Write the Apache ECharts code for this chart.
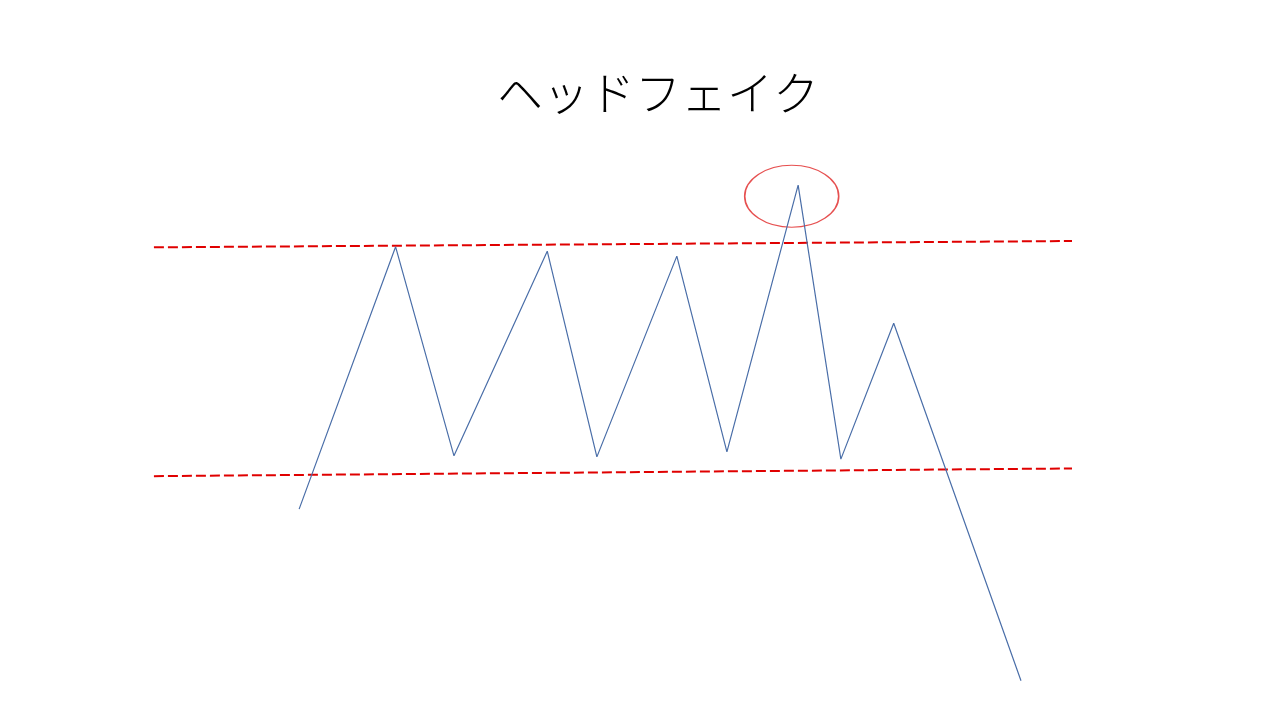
<!DOCTYPE html>
<html>
    <head>
        <title>ヘッドフェイク</title>
        <meta charset="UTF-8">
        <script src="https://cdn.jsdelivr.net/npm/echarts@6/dist/echarts.min.js"></script>
        <style>
            html, body {
                margin: 0;
                padding: 0;
                background-color: #fff;
            }
            #main {
                width: 1280px;
                height: 720px;
            }
        </style>
    </head>
    <body>
        <div id="main"></div>
        <script>
            // price path (x = time, y = price)
            var priceX = [15.9, 26.4, 32.75, 42.9, 48.3, 57.0, 62.45, 70.2, 74.85, 80.6, 94.45];
            var priceY = [34.7, 82.4, 44.4, 81.6, 44.2, 80.7, 45.1, 93.6, 43.8, 68.5, 3.5];

            // resistance / support lines
            var upperX = [0.1, 100];
            var upperY = [82.3, 83.45];
            var lowerX = [0.1, 100];
            var lowerY = [40.7, 42.1];

            // fake breakout marker
            var fakeX = [69.5];
            var fakeY = [91.6];

            function pairs(xs, ys) {
                var out = [];
                for (var i = 0; i < xs.length; i++) {
                    out.push([xs[i], ys[i]]);
                }
                return out;
            }

            var chart = echarts.init(document.getElementById('main'));
            var option = {
                animation: false,
                title: {
                    text: 'ヘッドフェイク',
                    left: 492,
                    top: 65,
                    textStyle: {
                        fontFamily: 'Noto Sans CJK JP',
                        fontSize: 46,
                        fontWeight: 300,
                        color: '#000'
                    }
                },
                grid: {left: 153, right: 208, top: 150, bottom: 20},
                xAxis: {
                    type: 'value', min: 0, max: 100,
                    show: false
                },
                yAxis: {
                    type: 'value', min: 0, max: 100,
                    show: false
                },
                series: [
                    {
                        type: 'line',
                        data: pairs(upperX, upperY),
                        symbol: 'none',
                        lineStyle: {color: '#E00000', width: 2, type: [10, 4]}
                    },
                    {
                        type: 'line',
                        data: pairs(lowerX, lowerY),
                        symbol: 'none',
                        lineStyle: {color: '#E00000', width: 2, type: [10, 4]}
                    },
                    {
                        type: 'line',
                        data: pairs(priceX, priceY),
                        symbol: 'none',
                        lineStyle: {color: '#4a6ea8', width: 1.2}
                    },
                    {
                        type: 'scatter',
                        data: pairs(fakeX, fakeY),
                        symbol: 'circle',
                        symbolSize: [94, 62],
                        itemStyle: {color: 'rgba(0,0,0,0)', borderColor: '#e02424', borderWidth: 1.3}
                    }
                ]
            };
            chart.setOption(option);
        </script>
    </body>
</html>
